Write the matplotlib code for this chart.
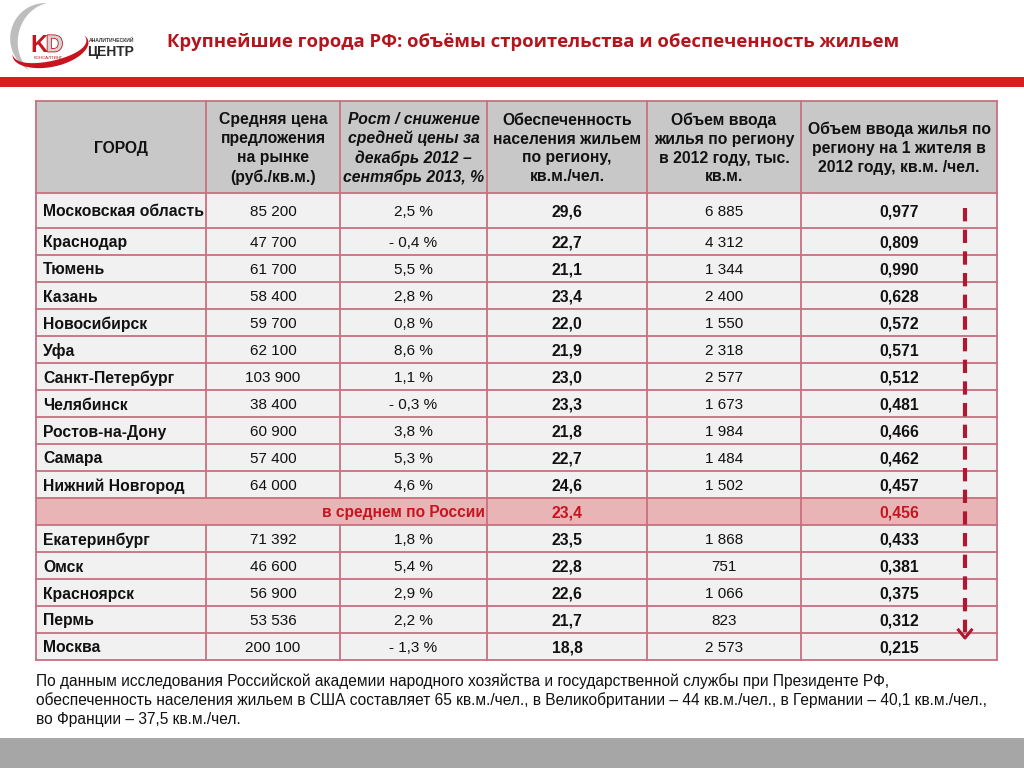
import numpy as np
import matplotlib.pyplot as plt
import matplotlib.patheffects as pe
from matplotlib.patches import Rectangle, Polygon

plt.rcParams['font.family'] = ['Liberation Sans', 'DejaVu Sans']

# данные таблицы
cities = ["Московская область", "Краснодар", "Тюмень", "Казань", "Новосибирск", "Уфа",
          "Санкт-Петербург", "Челябинск", "Ростов-на-Дону", "Самара", "Нижний Новгород",
          "в среднем по России",
          "Екатеринбург", "Омск", "Красноярск", "Пермь", "Москва"]
price = ["85 200", "47 700", "61 700", "58 400", "59 700", "62 100", "103 900", "38 400",
         "60 900", "57 400", "64 000", "", "71 392", "46 600", "56 900", "53 536", "200 100"]
price_change = ["2,5 %", "- 0,4 %", "5,5 %", "2,8 %", "0,8 %", "8,6 %", "1,1 %", "- 0,3 %",
                "3,8 %", "5,3 %", "4,6 %", "", "1,8 %", "5,4 %", "2,9 %", "2,2 %", "- 1,3 %"]
housing = ["29,6", "22,7", "21,1", "23,4", "22,0", "21,9", "23,0", "23,3", "21,8", "22,7",
           "24,6", "23,4", "23,5", "22,8", "22,6", "21,7", "18,8"]
volume = ["6 885", "4 312", "1 344", "2 400", "1 550", "2 318", "2 577", "1 673", "1 984",
          "1 484", "1 502", "", "1 868", "751", "1 066", "823", "2 573"]
per_capita = ["0,977", "0,809", "0,990", "0,628", "0,572", "0,571", "0,512", "0,481", "0,466",
              "0,462", "0,457", "0,456", "0,433", "0,381", "0,375", "0,312", "0,215"]
avg_index = 11

headers = ["ГОРОД",
           "Средняя цена\nпредложения\nна рынке\n(руб./кв.м.)",
           "Рост / снижение\nсредней цены за\nдекабрь 2012 –\nсентябрь 2013, %",
           "Обеспеченность\nнаселения жильем\nпо региону,\nкв.м./чел.",
           "Объем ввода\nжилья по региону\nв 2012 году, тыс.\nкв.м.",
           "Объем ввода жилья по\nрегиону на 1 жителя в\n2012 году, кв.м. /чел."]

title = "Крупнейшие города РФ: объёмы строительства и обеспеченность жильем"
note = ("По данным исследования Российской академии народного хозяйства и государственной службы при Президенте РФ,\n"
        "обеспеченность населения жильем в США составляет 65 кв.м./чел., в Великобритании – 44 кв.м./чел., в Германии – 40,1 кв.м./чел.,\n"
        "во Франции – 37,5 кв.м./чел.")

RED = "#c8141e"
LINE = "#c87080"


def crescent(cx, cy, a, b, t0, t1, w_max, rot=0.0):
    # полумесяц для логотипа: толщина растет к середине дуги
    t = np.radians(np.linspace(t0, t1, 80))
    w = w_max * np.sin(np.linspace(0, np.pi, 80))
    r = np.radians(rot)
    def pts(da, db):
        x = (a + da) * np.cos(t)
        y = -(b + db) * np.sin(t)
        return np.column_stack([cx + x * np.cos(r) - y * np.sin(r),
                                cy + x * np.sin(r) + y * np.cos(r)])
    outer = pts(w / 2, w / 2)
    inner = pts(-w / 2, -w / 2)
    return np.vstack([outer, inner[::-1]])


fig = plt.figure(figsize=(10.24, 7.68), dpi=100)
ax = fig.add_axes([0, 0, 1, 1])
ax.set_xlim(0, 1024)
ax.set_ylim(768, 0)
ax.axis("off")

# логотип
ax.add_patch(Polygon(crescent(50, 40, 36, 37, 95, 235, 8), color="#bdbdbd", lw=0))
ax.add_patch(Polygon(crescent(50, 48, 38, 16, 175, 378, 6, rot=-12), color=RED, lw=0))
ax.text(30, 45, "K", fontsize=17, fontweight="bold", color=RED, va="center")
ax.text(46, 45, "D", fontsize=17, fontweight="bold", color="#d4d4d4", va="center",
        path_effects=[pe.withStroke(linewidth=1.2, foreground=RED)])
ax.text(48, 58, "КОНСАЛТИНГ", fontsize=3.2, color=RED, va="center", ha="center")
ax.text(89, 40, "АНАЛИТИЧЕСКИЙ", fontsize=3.6, fontweight="bold", color="#333333", va="center")
ax.text(87, 52, "ЦЕНТР", fontsize=10, fontweight="bold", color="#2a2a2a", va="center")

# заголовок и полосы
ax.text(167, 42, title, fontsize=13.3, fontweight="bold", color="#b4141c", va="center",
        family=["Open Sans", "DejaVu Sans"])
ax.add_patch(Rectangle((0, 77), 1024, 10, color="#d42020", lw=0))
ax.add_patch(Rectangle((0, 738), 1024, 30, color="#a6a6a6", lw=0))

# геометрия таблицы
col_x = [36, 206, 340, 487, 647, 801, 997]
head_top, head_bot = 101, 193
row_y = [193, 228]
for i in range(len(cities) - 1):
    row_y.append(row_y[-1] + 27)

# фон
ax.add_patch(Rectangle((col_x[0], head_top), col_x[-1] - col_x[0], head_bot - head_top,
                       facecolor="#c8c8c8", lw=0))
for i in range(len(cities)):
    fc = "#e8b4b6" if i == avg_index else "#f1f1f1"
    ax.add_patch(Rectangle((col_x[0], row_y[i]), col_x[-1] - col_x[0], row_y[i + 1] - row_y[i],
                           facecolor=fc, lw=0))

# линии сетки
for y in [head_top, head_bot] + row_y[1:]:
    ax.plot([col_x[0], col_x[-1]], [y, y], color=LINE, lw=1.3)
for j, x in enumerate(col_x):
    if j in (1, 2):
        ax.plot([x, x], [head_top, row_y[avg_index]], color=LINE, lw=1.3)
        ax.plot([x, x], [row_y[avg_index + 1], row_y[-1]], color=LINE, lw=1.3)
    else:
        ax.plot([x, x], [head_top, row_y[-1]], color=LINE, lw=1.3)

# заголовки столбцов
for j, h in enumerate(headers):
    cx = (col_x[j] + col_x[j + 1]) / 2
    ax.text(cx, (head_top + head_bot) / 2 + 1.5, h, ha="center", va="center", fontsize=11.3,
            fontweight="bold", style="italic" if j == 2 else "normal", color="#111111",
            linespacing=1.32)

# строки
dy = 1.5
for i in range(len(cities)):
    cy = (row_y[i] + row_y[i + 1]) / 2 + dy
    if i == avg_index:
        ax.text(col_x[3] - 2, cy, cities[i], ha="right", va="center", fontsize=11.2,
                fontweight="bold", color=RED)
        ax.text((col_x[3] + col_x[4]) / 2, cy, housing[i], ha="center", va="center",
                fontsize=11.3, fontweight="bold", color=RED)
        ax.text((col_x[5] + col_x[6]) / 2, cy, per_capita[i], ha="center", va="center",
                fontsize=11.3, fontweight="bold", color=RED)
        continue
    ax.text(col_x[0] + 7, cy, cities[i], ha="left", va="center", fontsize=11.3,
            fontweight="bold", color="#111111")
    vals = [price[i], price_change[i], housing[i], volume[i], per_capita[i]]
    for k, v in enumerate(vals):
        cx = (col_x[k + 1] + col_x[k + 2]) / 2
        bold = k in (2, 4)
        ax.text(cx, cy, v, ha="center", va="center", fontsize=11.3 if bold else 11,
                fontweight="bold" if bold else "normal", color="#111111")

# пунктирная стрелка
ax.plot([965, 965], [208, 632], color="#b01830", lw=3, dashes=(3.2, 2))
ax.plot([958.5, 965, 971.5], [630, 638, 630], color="#b01830", lw=2.2)

# примечание
ax.text(36, 673, note, ha="left", va="top", fontsize=11.2, color="#111111", linespacing=1.28,
        family=["Liberation Sans Narrow", "Liberation Sans", "DejaVu Sans"])

fig.savefig("out.png", dpi=100, facecolor="white")
